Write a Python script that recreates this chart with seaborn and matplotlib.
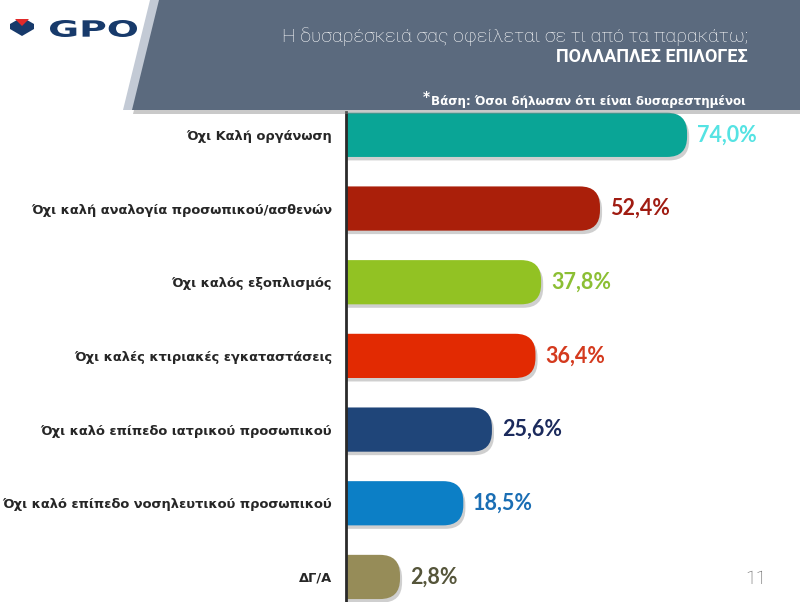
import matplotlib
matplotlib.use("Agg")
import matplotlib.pyplot as plt
import matplotlib.patches as mpatches
import matplotlib.patheffects as pe
from matplotlib.textpath import TextPath
from matplotlib.font_manager import FontProperties
from matplotlib.transforms import Affine2D, IdentityTransform
import seaborn as sns
import pandas as pd

# ---- data ----
categories = [
    "Όχι Καλή οργάνωση",
    "Όχι καλή αναλογία προσωπικού/ασθενών",
    "Όχι καλός εξοπλισμός",
    "Όχι καλές κτιριακές εγκαταστάσεις",
    "Όχι καλό επίπεδο ιατρικού προσωπικού",
    "Όχι καλό επίπεδο νοσηλευτικού προσωπικού",
    "ΔΓ/Α",
]
values = [74.0, 52.4, 37.8, 36.4, 25.6, 18.5, 2.8]
bar_colors = ["#0aa596", "#aa1f0a", "#92c223", "#e22a02", "#1f4579", "#0c7fc6", "#968c58"]
label_colors = ["#55e3e3", "#a01c12", "#8cbf34", "#d43a1e", "#1b2a5c", "#1a6eb4", "#55553a"]
title_line1 = "Η δυσαρέσκειά σας οφείλεται σε τι από τα παρακάτω;"
title_line2 = "ΠΟΛΛΑΠΛΕΣ ΕΠΙΛΟΓΕΣ"
base_note = "Βάση: Όσοι δήλωσαν ότι είναι δυσαρεστημένοι"
page_no = "11"
logo_text = "GPO"

df = pd.DataFrame({"category": categories, "value": values})

W, H = 800, 602
fig = plt.figure(figsize=(W / 100, H / 100), dpi=100)
fig.patch.set_facecolor("white")

def fx(x):
    return x / W

def fy(y):
    return 1 - y / H

# ---- header band ----
strip = mpatches.Polygon([(fx(150), fy(0)), (fx(160), fy(0)), (fx(133), fy(110)), (fx(123), fy(110))],
                         closed=True, transform=fig.transFigure, facecolor="#c3cad5",
                         edgecolor="none", zorder=1)
fig.patches.append(strip)
band = mpatches.Polygon([(fx(159), fy(0)), (fx(W), fy(0)), (fx(W), fy(110)), (fx(132), fy(110))],
                        closed=True, transform=fig.transFigure, facecolor="#5b6a7e",
                        edgecolor="none", zorder=2,
                        path_effects=[pe.SimplePatchShadow(offset=(1, -3), shadow_rgbFace="#888888", alpha=0.45),
                                      pe.Normal()])
fig.patches.append(band)

fig.text(fx(748), fy(37), title_line1, ha="right", va="center", color="white",
         fontsize=14, family="Roboto", fontweight="light", zorder=5)
fig.text(fx(748), fy(57), title_line2, ha="right", va="center", color="white",
         fontsize=13, family="Roboto", fontweight="bold", zorder=5)
note = fig.text(fx(746), fy(101), base_note, ha="right", va="center", color="white",
                fontsize=8.6, family="DejaVu Sans", fontweight="bold", zorder=5)

# ---- logo ----
navy = "#173a6b"
heart = mpatches.Polygon([(fx(10), fy(24)), (fx(17), fy(20)), (fx(22), fy(24)), (fx(27), fy(20)),
                          (fx(34), fy(24)), (fx(34), fy(29)), (fx(22), fy(36)), (fx(10), fy(29))],
                         closed=True, transform=fig.transFigure, facecolor=navy, edgecolor="none", zorder=3)
fig.patches.append(heart)
vmark = mpatches.Polygon([(fx(15), fy(19)), (fx(29), fy(19)), (fx(22), fy(26))],
                         closed=True, transform=fig.transFigure, facecolor="#e02a2a", edgecolor="none", zorder=4)
fig.patches.append(vmark)
tp = TextPath((0, 0), logo_text, size=20, prop=FontProperties(family="DejaVu Sans", weight="bold"))
tb = tp.get_extents()
tr = (Affine2D().translate(-tb.x0, -tb.y0)
      .scale(87 / tb.width, 17 / tb.height)
      .translate(50, H - 37))
logo_patch = mpatches.PathPatch(tr.transform_path(tp), transform=IdentityTransform(),
                                facecolor=navy, edgecolor="none", zorder=4)
fig.patches.append(logo_patch)

# ---- bar chart ----
ax = fig.add_axes([fx(346), 0, (W - 346) / W, (H - 112) / H])
ax.set_facecolor("none")
sns.barplot(data=df, x="value", y="category", hue="category", palette=bar_colors,
            legend=False, orient="h", width=0.6, ax=ax, saturation=1)

ax.set_xlim(0, 112.6)
ax.set_ylim(6.34, -0.31)

fig.canvas.draw()
p0 = ax.transData.transform((0, 0))
p1 = ax.transData.transform((1, 1))
px_x = abs(p1[0] - p0[0])
px_y = abs(p1[1] - p0[1])
cap = 42.7 / px_x          # rounded end cap length in data units
r_px = 20
rs = r_px / px_x

bars = list(ax.patches)
for i, patch in enumerate(bars):
    x0, y0 = patch.get_x(), patch.get_y()
    w, h = patch.get_width(), patch.get_height()
    col = patch.get_facecolor()
    patch.remove()
    fb = mpatches.FancyBboxPatch((x0 - 10, y0), w + cap + 10, h,
                                 boxstyle=f"round,pad=0,rounding_size={rs}",
                                 mutation_aspect=px_x / px_y,
                                 facecolor=col, edgecolor="none", zorder=2,
                                 path_effects=[pe.SimplePatchShadow(offset=(1.5, -2.5), shadow_rgbFace="#777777", alpha=0.35),
                                               pe.Normal()])
    ax.add_patch(fb)
    label = f"{values[i]:.1f}%".replace(".", ",")
    ax.annotate(label, xy=(w + cap, y0 + h / 2), xytext=(7, 0), textcoords="offset points",
                ha="left", va="center", fontsize=15.5, fontweight="bold", family="Lato",
                color=label_colors[i], zorder=3)

ax.set_xlabel("")
ax.set_ylabel("")
ax.set_xticks([])
ax.tick_params(axis="y", length=0, pad=10)
for t in ax.get_yticklabels():
    t.set_fontsize(9.4)
    t.set_fontweight("bold")
    t.set_color("#262626")
    t.set_family("DejaVu Sans")
for s in ["top", "right", "bottom"]:
    ax.spines[s].set_visible(False)
ax.spines["left"].set_color("#2a2a2a")
ax.spines["left"].set_linewidth(2)
ax.spines["left"].set_zorder(4)

# asterisk placed just left of the base note
fig.canvas.draw()
bb = note.get_window_extent()
fig.text(bb.x0 / W - 1 / W, fy(97), "*", ha="right", va="center", color="white",
         fontsize=10, fontweight="bold", zorder=5)

fig.text(fx(756), fy(579), page_no, ha="center", va="center", color="#555555",
         fontsize=14, family="Roboto", fontweight="light")

fig.savefig("out.png", dpi=100, facecolor="white")
